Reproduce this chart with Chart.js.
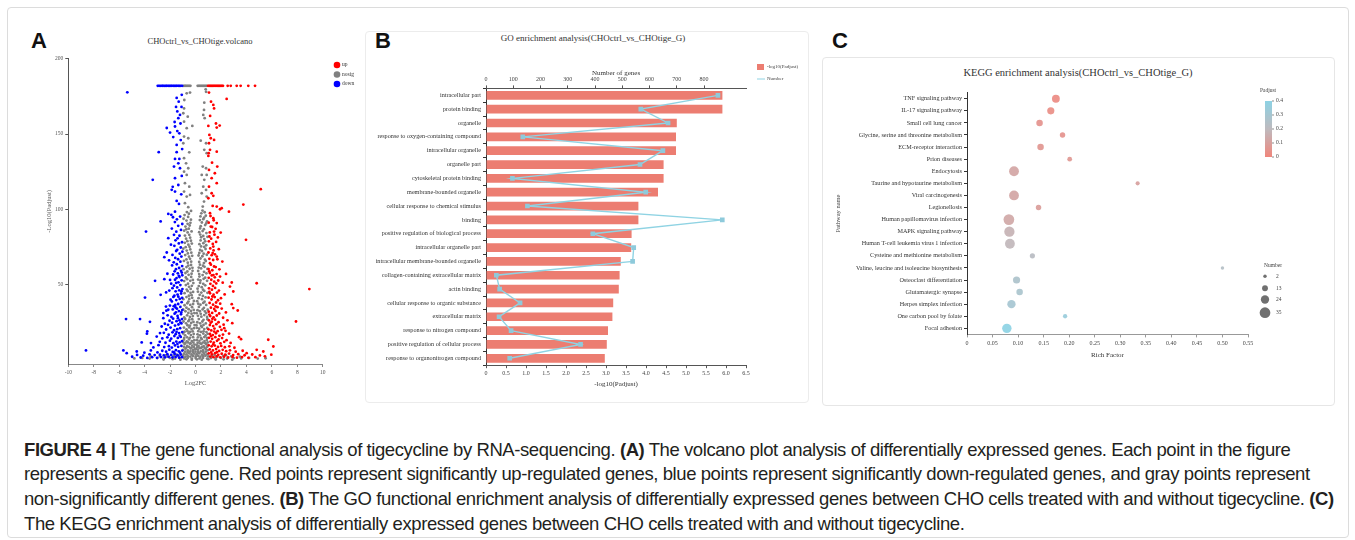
<!DOCTYPE html>
<html>
<head>
<meta charset="utf-8">
<script src="https://cdn.jsdelivr.net/npm/chart.js@4.4.0/dist/chart.umd.min.js"></script>
<style>
body { margin: 0; width: 1355px; height: 540px; background: #fff; position: relative; overflow: hidden; }
canvas { position: absolute; }
.frame { position: absolute; border: 1px solid #dcdcdc; border-radius: 4px; }
.letter { position: absolute; font-family: 'Liberation Sans', Arial, sans-serif; font-weight: bold; font-size: 22px; color: #111; line-height: 1; }
.ttl { position: absolute; transform: translateX(-50%); white-space: nowrap; color: #333; line-height: 1; font-family: 'Liberation Serif', serif; }
.cap { position: absolute; left: 24px; white-space: nowrap; font-family: 'Liberation Sans', Arial, sans-serif; font-size: 18.5px; letter-spacing: -0.42px; line-height: 24px; color: #231f20; }
</style>
</head>
<body>
<div class="frame" style="left:7px;top:7px;width:1340px;height:529px"></div>
<div class="frame" style="left:365px;top:31px;width:442px;height:370px;border-color:#ececec"></div>
<div class="frame" style="left:822px;top:57px;width:511px;height:347px;border-color:#e6e6e6"></div>

<div class="letter" style="left:31px;top:30px">A</div>
<div class="letter" style="left:375px;top:30px">B</div>
<div class="letter" style="left:832px;top:30px">C</div>

<div class="ttl" style="left:200px;top:37px;font-size:8.5px">CHOctrl_vs_CHOtige.volcano</div>
<div class="ttl" style="left:593px;top:34px;font-size:9px">GO enrichment analysis(CHOctrl_vs_CHOtige_G)</div>
<div class="ttl" style="left:1078px;top:68px;font-size:10.5px">KEGG enrichment analysis(CHOctrl_vs_CHOtige_G)</div>

<canvas id="graph_volcano" width="350" height="380" style="left:20px;top:20px"></canvas>
<canvas id="graph_go" width="440" height="375" style="left:370px;top:25px"></canvas>
<canvas id="graph_kegg" width="505" height="340" style="left:825px;top:60px"></canvas>

<div class="cap" style="top:437.5px"><b>FIGURE 4 |</b> The gene functional analysis of tigecycline by RNA-sequencing. <b>(A)</b> The volcano plot analysis of differentially expressed genes. Each point in the figure</div>
<div class="cap" style="top:462.2px">represents a specific gene. Red points represent significantly up-regulated genes, blue points represent significantly down-regulated genes, and gray points represent</div>
<div class="cap" style="top:486.9px">non-significantly different genes. <b>(B)</b> The GO functional enrichment analysis of differentially expressed genes between CHO cells treated with and without tigecycline. <b>(C)</b></div>
<div class="cap" style="top:511.6px">The KEGG enrichment analysis of differentially expressed genes between CHO cells treated with and without tigecycline.</div>

<script>
/*------------------------------*/
/*            Data              */
/*------------------------------*/
// volcano: [log2FC, -log10(padjust)]
var upGenes = [
  [0.99,182],[1.08,182],[1.17,182],[1.26,182],[1.35,182],[1.44,182],[1.53,182],[1.62,182],[1.71,182],[1.8,182],[1.89,182],[1.98,182],[2.07,182],[2.16,182],[2.53,182],[2.77,182],[3.24,182],[3.55,182],[4.15,182],[4.68,182],
  [1.06,177.5],[2.45,173.3],[1.22,171.5],[1.4,169.3],[1.46,167],[1.01,155.4],[1.61,157],[1.9,155.6],[1.67,154.3],[1.09,149.4],[1.2,147.2],[1.46,146.1],[1.06,143.9],[1.67,138.3],[1.04,137.3],[1.14,139.5],[1.01,135.5],[1.71,128.4],[1.06,126.2],[1.27,120.7],[1.67,117.4],[5.13,113.4],[1.06,115.1],[1.27,110.7],[1.4,109],[1.01,107.4],[3.76,103.2],[1.67,101.9],[1.93,100.1],[1.15,162],[1.3,131],[1.52,124],
  [1.35,102.3],[2.06,100.8],[2.63,98.5],[1.14,97.5],[1.4,94.2],[1.67,90.9],[1.2,88.6],[1.46,85.3],[1.98,84.6],[3.97,79.8],[1.09,82],[1.4,75.3],[1.35,71],[1.67,68.7],[2.11,65.4],[1.14,64.3],[2.4,57.2],[1.93,55.4],[2.85,51.5],[4.81,51],[8.95,47.1],[2.71,48.8],[2.97,45.5],[2.0,41.1],[2.85,37.1],[2.97,34.5],[3.32,32.9],[7.9,25.6],[2.89,24.5],[2.26,21.2],[5.72,13.5],[6.12,9.0],[3.58,13.9],[3.42,15.2],[4.81,6.8],[5.33,5.7],[4.02,4.6],
  [1.18,95.6],[1.43,92.8],[1.04,91.2],[1.31,88.3],[1.58,87.1],[1.12,84.7],[1.49,83.2],[1.23,80.6],[1.76,81.4],[1.05,78.8],[1.36,77.1],[1.62,78.4],[1.16,74.1],[1.42,72.8],[1.83,73.6],[1.02,71.4],[1.27,69.6],[1.53,70.2],[1.09,67.2],[1.39,66.4],[1.72,66.9],[1.21,63.3],[1.46,62.1],[1.03,60.4],[1.32,59.6],[1.59,61.7],[1.88,60.2],[1.13,57.8],[1.41,56.4],[1.66,57.1],[1.04,54.6],[1.24,53.3],[1.52,54.9],[1.79,52.8],[1.17,50.6],[1.37,49.2],[1.63,50.9],[2.14,51.4],[1.06,47.6],[1.29,46.7],[1.54,47.9],[1.84,46.1],[1.14,44.3],[1.42,43.4],[1.69,44.8],[2.29,43.6],[1.03,41.4],[1.26,40.2],[1.51,41.8],[1.77,39.7],[1.11,37.9],[1.38,36.8],[1.62,38.2],[1.94,37.4],[1.21,34.8],[1.47,33.9],[1.73,35.1],[2.06,34.2],[1.04,32.1],[1.31,31.3],[1.57,32.6],[1.86,30.9],[2.39,31.6],[1.16,29.2],[1.42,28.4],[1.67,29.6],[2.17,28.1],[1.06,26.3],[1.28,25.5],[1.54,26.8],[1.81,25.1],[2.51,26.4],[1.13,23.2],[1.39,22.6],[1.64,23.8],[1.92,22.1],[2.21,23.5],[1.02,20.4],[1.24,19.7],[1.49,20.9],[1.74,19.2],[2.04,20.1],[2.36,19.4],[1.14,17.3],[1.36,16.6],[1.61,17.8],[1.88,16.1],[2.16,16.9],[2.64,17.6],[1.06,14.8],[1.31,14.1],[1.56,15.2],[1.81,13.7],[2.09,14.6],[2.44,13.2],[1.19,12.3],[1.44,11.6],[1.69,12.8],[1.96,11.1],[2.26,12.1],[2.76,11.4],[1.04,9.8],[1.27,9.1],[1.52,9.6],[1.77,8.7],[2.02,9.4],[2.31,8.5],[2.66,9.1],[3.06,8.2],[1.12,7.1],[1.37,6.4],[1.62,7.3],[1.86,6.1],[2.14,6.8],[2.41,5.9],[2.71,6.5],[3.16,5.6],[3.71,6.2],[1.04,4.4],[1.29,3.8],[1.54,4.6],[1.79,3.5],[2.06,4.2],[2.34,3.6],[2.64,4.3],[2.96,3.3],[3.36,3.9],[3.86,3.2],[4.46,3.7],[5.06,3.1],[1.16,2.3],[1.41,1.9],[1.66,2.4],[1.94,1.8],[2.24,2.2],[2.56,1.7],[2.91,2.1],[3.26,1.6],[3.66,2.0],[4.16,1.5],[4.71,1.9],[5.46,2.5],[5.96,3.6],
  [1.08,58.9],[1.28,56.2],[1.47,52.1],[1.09,45.3],[1.33,42.2],[1.58,35.6],[1.09,30.2],[1.33,27.4],[1.19,24.7],[1.47,18.9],[1.22,15.9],[1.39,10.4],[1.68,5.2],[1.23,5.1]
]
var nosigGenes = [
  [-0.93,182],[-0.84,182],[-0.76,182],[-0.67,182],[-0.58,182],[-0.49,182],[-0.4,182],[0.17,182],[0.26,182],[0.35,182],[0.44,182],[0.53,182],[0.62,182],[0.71,182],[0.8,182],[0.89,182],
  [-0.43,177.5],[-0.69,177],[-0.88,172.6],[-0.9,167],[-0.96,163.8],[-0.61,161.5],[-0.9,158.2],[-0.25,155.4],[-0.69,153.9],[-0.9,148.3],[-0.57,147.2],[-0.96,143.9],[-0.49,137.9],[-0.9,134],[-0.74,130.6],[-0.57,127.3],[-0.9,125],[-0.69,122.9],[-0.83,117.4],[-0.49,115.1],[-0.9,111.8],[-0.69,108.5],[-0.43,109.6],[-0.83,104.1],[-0.57,101.5],
  [0.8,179.7],[0.83,178],[0.69,170.8],[0.67,166],[0.61,162.7],[0.72,160.5],[0.41,145.6],[0.83,143.9],[0.69,139.5],[0.88,137.3],[0.57,128.4],[0.83,127.3],[0.49,122.9],[0.88,122.9],[0.69,119.6],[0.61,115.1],[0.83,112.9],[0.49,110.7],[0.88,108.5],[0.67,105.2],[0.57,101.9],
  [-0.52,97.1],[-0.86,96.2],[0.46,97.4],[0.81,95.8],[-0.36,93.2],[-0.71,92.6],[-0.94,93.8],[0.34,92.9],[0.61,93.5],[0.91,92.1],[-0.46,89.3],[-0.79,88.6],[0.41,88.8],[0.76,89.6],[-0.31,85.4],[-0.62,84.7],[-0.89,85.9],[0.29,84.9],[0.56,85.6],[0.86,84.3],
  [-0.42,81.2],[-0.74,80.6],[0.44,81.5],[0.69,80.3],[0.94,81.8],[-0.29,77.3],[-0.56,76.6],[-0.84,77.8],[0.31,76.9],[0.62,77.6],[0.84,76.2],[-0.41,73.4],[-0.69,72.7],[-0.96,73.9],[0.36,73.1],[0.51,72.4],[0.79,73.7],[-0.26,69.2],[-0.51,68.6],[-0.81,69.7],[0.24,69.4],[0.54,68.9],[0.89,69.9],
  [-0.34,65.3],[-0.61,64.6],[-0.91,65.8],[0.29,65.1],[0.66,64.4],[0.81,65.7],[-0.24,61.2],[-0.46,60.6],[-0.71,61.7],[-0.94,60.3],[0.26,61.4],[0.44,60.8],[0.71,61.9],[0.94,60.5],[-0.31,57.3],[-0.54,56.6],[-0.79,57.8],[0.29,57.1],[0.56,56.4],[0.86,57.6],
  [-0.21,53.2],[-0.41,52.6],[-0.66,53.7],[-0.89,52.4],[0.21,53.4],[0.39,52.8],[0.64,53.9],[0.91,52.6],[-0.29,49.3],[-0.51,48.6],[-0.76,49.8],[0.26,49.1],[0.49,48.4],[0.76,49.6],[-0.19,45.2],[-0.39,44.6],[-0.61,45.7],[-0.86,44.4],[0.19,45.4],[0.46,44.8],[0.69,45.9],[0.94,44.6],
  [-0.26,41.3],[-0.49,40.6],[-0.71,41.8],[-0.96,40.4],[0.24,41.1],[0.51,40.4],[0.79,41.6],[-0.19,37.2],[-0.41,36.6],[-0.64,37.7],[-0.86,36.4],[0.21,37.4],[0.39,36.8],[0.61,37.9],[0.84,36.6],
  [-0.14,33.3],[-0.36,32.6],[-0.54,33.8],[-0.79,32.4],[-0.97,33.6],[0.16,33.1],[0.34,32.4],[0.56,33.6],[0.74,32.3],[0.96,33.4],[-0.21,29.2],[-0.44,28.6],[-0.66,29.7],[-0.89,28.4],[0.19,29.4],[0.46,28.8],[0.69,29.9],[0.91,28.6],
  [-0.16,25.3],[-0.34,24.6],[-0.56,25.8],[-0.74,24.4],[-0.94,25.6],[0.14,25.1],[0.36,24.4],[0.54,25.6],[0.81,24.3],[-0.12,21.2],[-0.31,20.6],[-0.49,21.7],[-0.71,20.4],[-0.91,21.6],[0.11,21.4],[0.29,20.8],[0.51,21.9],[0.69,20.6],[0.92,21.3],
  [-0.14,17.3],[-0.36,16.6],[-0.54,17.8],[-0.81,16.4],[-0.97,17.6],[0.16,17.1],[0.34,16.4],[0.61,17.6],[0.79,16.3],[0.96,17.4],[-0.09,13.2],[-0.29,12.6],[-0.51,13.7],[-0.69,12.4],[-0.91,13.6],[0.11,13.4],[0.31,12.8],[0.49,13.9],[0.71,12.6],[0.89,13.3],
  [-0.07,10.3],[-0.26,9.6],[-0.44,10.8],[-0.66,9.4],[-0.86,10.6],[0.09,10.1],[0.24,9.4],[0.46,10.6],[0.64,9.3],[0.86,10.4],[-0.05,7.2],[-0.21,6.6],[-0.39,7.7],[-0.61,6.4],[-0.79,7.6],[-0.98,6.8],[0.04,7.4],[0.19,6.8],[0.41,7.9],[0.59,6.6],[0.81,7.3],[0.97,6.5],
  [-0.91,4.2],[-0.71,3.8],[-0.49,4.4],[-0.31,3.7],[-0.11,4.3],[0.09,3.9],[0.29,4.5],[0.51,3.6],[0.69,4.2],[0.91,3.8],
  [-3.52,2.4],[-2.81,2.7],[-2.19,2.3],[-1.71,2.8],[-1.31,2.5],[-0.98,2.9],[-0.79,2.2],[-0.61,2.6],[-0.41,2.3],[-0.19,2.7],[0.02,2.4],[0.21,2.8],[0.39,2.2],[0.61,2.6],[0.79,2.9],[1.01,2.4],[1.29,2.7],[1.71,2.3],[2.19,2.8],[2.81,2.5],[3.49,2.3],
  [-4.81,1.1],[-4.19,1.4],[-3.61,1.0],[-3.01,1.3],[-2.49,1.1],[-2.01,1.4],[-1.61,1.0],[-1.21,1.3],[-0.89,1.1],[-0.61,1.4],[-0.29,1.0],[0.01,1.3],[0.31,1.1],[0.59,1.4],[0.91,1.0],[1.21,1.3],[1.59,1.1],[2.01,1.4],[2.49,1.0],[3.01,1.3],[3.59,1.1],[4.21,1.4],[4.89,1.0],[5.51,1.2],
  [-2.51,0.4],[-1.79,0.6],[-1.19,0.3],[-0.71,0.5],[-0.29,0.3],[0.11,0.5],[0.49,0.3],[1.01,0.6],[1.59,0.4],[2.21,0.5],[2.89,0.3],
  [-0.35,99],[-0.68,98.2],[0.55,99.2],[0.72,98.1],[-0.58,95],[0.39,95.3],[0.68,94.6],[-0.4,91.1],[-0.62,90.4],[0.5,91.3],[0.84,90.7],[-0.53,87.2],[-0.72,86.8],[0.36,87.4],[0.66,86.9],
  [-0.49,83.1],[-0.83,82.6],[0.37,83.3],[0.61,82.4],[-0.36,79.2],[-0.64,78.9],[0.4,79.4],[0.76,78.8],[-0.47,75.2],[-0.77,74.9],[0.44,75.4],[0.69,75.1],[-0.33,71.3],[-0.6,70.8],[0.3,71.1],[0.64,70.6],
  [-0.43,67.2],[-0.71,66.8],[0.39,67.4],[0.74,66.7],[-0.35,63.1],[-0.57,62.7],[0.35,63.3],[0.59,62.6],[-0.23,59.2],[-0.64,58.8],[0.21,59.1],[0.67,58.6],[-0.34,55.2],[-0.76,54.8],[0.31,55.4],[0.76,54.7],
  [-0.17,51.1],[-0.59,50.7],[0.36,51.3],[0.61,50.6],[-0.38,47.2],[-0.69,46.8],[0.16,47.4],[0.59,46.7],[-0.31,43.1],[-0.52,42.7],[0.33,43.3],[0.58,42.6],[-0.13,39.2],[-0.56,38.8],[0.13,39.1],[0.71,38.7],
  [-0.27,35.1],[-0.71,34.8],[0.27,35.3],[0.66,34.7],[-0.09,31.2],[-0.31,30.8],[-0.56,31.3],[0.09,31.1],[0.41,30.7],[0.84,31.2],[-0.26,27.1],[-0.49,26.8],[-0.81,27.3],[0.26,27.2],[0.63,26.7],[0.94,27.1],
  [-0.07,23.2],[-0.44,22.8],[-0.63,23.1],[0.07,23.1],[0.44,22.7],[0.63,23.3],[-0.22,19.1],[-0.42,18.7],[-0.63,19.2],[-0.86,18.8],[0.22,19.2],[0.42,18.7],[0.63,19.1],[0.86,18.6],
  [-0.19,15.2],[-0.44,14.8],[-0.66,15.1],[-0.89,14.7],[0.19,15.1],[0.44,14.7],[0.69,15.3],[0.89,14.8],[-0.17,11.6],[-0.39,11.2],[-0.59,11.7],[-0.79,11.3],[-0.96,11.8],[0.17,11.5],[0.37,11.1],[0.57,11.6],[0.77,11.2],[0.96,11.7],
  [-0.13,8.6],[-0.31,8.2],[-0.51,8.7],[-0.71,8.3],[-0.91,8.8],[0.14,8.5],[0.31,8.1],[0.51,8.6],[0.71,8.2],[0.91,8.7],[-0.81,5.6],[-0.61,5.2],[-0.41,5.7],[-0.21,5.3],[0,5.6],[0.21,5.2],[0.41,5.7],[0.61,5.3],[0.81,5.6],
  [-1.5,3.6],[-2.3,3.2],[1.5,3.4],[2.4,3.1]
]
var downGenes = [
  [-2.97,182],[-2.86,182],[-2.74,182],[-2.63,182],[-2.55,182],[-2.44,182],[-2.33,182],[-2.25,182],[-2.14,182],[-2.05,182],[-1.94,182],[-1.86,182],[-1.75,182],[-1.66,182],[-1.55,182],[-1.47,182],[-1.36,182],[-1.27,182],[-1.16,182],[-1.05,182],
  [-5.36,177.7],[-1.48,174],[-1.32,171.5],[-1.08,176],[-1.53,168],[-1.43,165],[-1.22,162.7],[-1.35,160.5],[-1.64,158],[-2.26,154],[-2.0,151],[-1.61,155],[-1.43,152],[-1.27,150.5],[-1.75,148],[-1.16,146],[-1.48,142.8],[-2.89,138],[-1.48,138],[-1.61,133.5],[-1.27,133.5],[-1.35,130.6],[-1.69,128.4],[-1.22,127.3],[-1.08,122.2],[-3.36,119.6],[-1.61,120.7],[-1.79,115],[-1.35,116.2],[-1.61,111.8],[-1.87,113],[-1.48,105.6],[-1.3,103.6],[-1.12,110],[-1.05,140],[-1.18,157],[-1.1,168],
  [-2.74,92],[-3.89,85.3],[-2.14,97],[-1.9,96.4],[-1.61,98.5],[-2.45,68.3],[-2.26,71.4],[-2.14,80.9],[-3.18,52.6],[-2.45,53.7],[-2.74,43.3],[-3.97,41.5],[-2.0,53.2],[-5.46,27.2],[-4.36,27.2],[-3.58,25.4],[-4.23,11.7],[-3.79,19],[-3.82,17.5],[-4.62,5.7],[-5.41,4.6],[-5.67,6.4],[-8.61,6.4],[-2.79,17.9],[-3.05,15.6],[-3.5,11.3],[-2.66,22.3],[-2.53,27.8],[-2.53,31.2],[-2.14,33.4],[-2.32,35.5],
  [-1.21,95.2],[-1.46,93.4],[-1.77,94.8],[-1.04,90.3],[-1.36,89.1],[-1.62,91.6],[-1.14,86.4],[-1.51,85.2],[-1.86,87.3],[-1.26,82.5],[-1.41,80.8],[-1.69,83.1],[-1.06,78.2],[-1.31,77.4],[-1.57,79.5],[-1.93,76.6],[-1.16,74.7],[-1.44,73.2],[-1.66,75.8],[-1.03,71.9],[-1.24,70.6],[-1.52,72.4],[-1.81,69.8],[-1.11,68.7],[-1.37,66.9],[-1.59,67.8],[-1.19,65.3],[-1.47,63.6],[-1.71,64.9],[-2.08,66.2],[-1.05,62.4],[-1.29,61.1],[-1.54,60.3],[-1.84,62.8],[-1.14,59.2],[-1.39,57.6],[-1.64,58.9],[-1.04,56.3],[-1.26,55.1],[-1.49,54.4],[-1.76,56.8],[-2.21,57.3],[-1.09,52.9],[-1.34,51.6],[-1.61,53.3],[-1.91,50.7],[-1.19,49.8],[-1.44,48.2],[-1.69,49.4],[-1.03,47.1],[-1.28,46.3],[-1.56,45.6],[-1.81,47.7],[-2.06,46.1],[-1.13,44.2],[-1.41,43.5],[-1.66,42.7],[-2.31,44.9],[-1.05,41.3],[-1.24,40.6],[-1.51,39.8],[-1.74,41.9],[-1.96,40.1],[-1.09,38.4],[-1.36,37.2],[-1.59,36.6],[-1.86,38.9],[-1.19,35.3],[-1.46,34.1],[-1.71,35.8],[-2.01,36.2],[-1.04,33.2],[-1.31,32.5],[-1.54,31.7],[-1.79,33.6],[-2.29,32.8],[-1.14,30.4],[-1.41,29.3],[-1.64,30.8],[-1.89,28.6],[-2.19,29.7],[-1.06,27.2],[-1.26,26.4],[-1.49,25.8],[-1.76,27.5],[-2.04,26.1],[-1.11,24.3],[-1.34,23.6],[-1.61,22.9],[-1.84,24.8],[-2.16,23.4],[-2.41,24.1],[-1.21,21.2],[-1.44,20.5],[-1.69,19.8],[-1.96,21.6],[-2.31,20.3],[-1.04,18.6],[-1.29,17.9],[-1.56,17.2],[-1.81,18.4],[-2.11,16.8],[-2.49,18.1],[-1.16,15.4],[-1.39,14.7],[-1.66,15.9],[-1.91,14.2],[-2.21,15.1],[-2.61,14.4],[-1.06,12.6],[-1.24,11.8],[-1.51,12.3],[-1.74,11.2],[-2.01,12.9],[-2.36,11.5],[-2.81,12.1],[-1.11,9.4],[-1.36,8.8],[-1.61,9.7],[-1.86,8.3],[-2.09,9.2],[-2.46,8.6],[-2.91,9.9],[-3.31,8.4],[-1.04,6.3],[-1.31,5.8],[-1.54,6.6],[-1.79,5.4],[-2.06,6.9],[-2.31,5.6],[-2.61,6.2],[-2.99,5.1],[-3.51,6.4],[-4.02,4.9],[-1.16,3.7],[-1.41,3.2],[-1.64,4.1],[-1.91,3.4],[-2.21,3.9],[-2.49,3.1],[-2.79,3.6],[-3.21,3.3],[-3.61,3.8],[-4.11,2.9],[-4.59,3.4],[-1.06,1.9],[-1.29,1.6],[-1.56,2.1],[-1.81,1.7],[-2.11,2.2],[-2.39,1.8],[-2.71,2.0],[-3.02,1.5],[-3.41,1.9],[-3.79,1.4],[-4.31,1.7],[-4.98,2.2],
  [-1.08,58.1],[-1.31,55.9],[-1.52,51.2],[-1.1,45.7],[-1.35,42.1],[-1.57,34.9],[-1.12,31.6],[-1.38,27.8],[-1.18,24.9],[-1.49,18.6],[-1.24,16.2],[-1.42,10.7],[-1.69,5.1],[-1.22,4.9]
]

// GO enrichment
var goTerms = ['intracellular part', 'protein binding', 'organelle', 'response to oxygen-containing compound',
  'intracellular organelle', 'organelle part', 'cytoskeletal protein binding', 'membrane-bounded organelle',
  'cellular response to chemical stimulus', 'binding', 'positive regulation of biological process',
  'intracellular organelle part', 'intracellular membrane-bounded organelle', 'collagen-containing extracellular matrix',
  'actin binding', 'cellular response to organic substance', 'extracellular matrix', 'response to nitrogen compound',
  'positive regulation of cellular process', 'response to organonitrogen compound']
var goPadj = [5.91, 5.91, 4.77, 4.75, 4.75, 4.44, 4.44, 4.30, 3.81, 3.81, 3.64, 3.63, 3.37, 3.34, 3.32, 3.18, 3.16, 3.05, 3.02, 2.97]
var goGenes = [851, 568, 668, 135, 649, 565, 97, 586, 152, 867, 392, 542, 538, 38, 50, 125, 48, 92, 347, 87]

// KEGG enrichment
var keggPathways = ['TNF signaling pathway', 'IL-17 signaling pathway', 'Small cell lung cancer',
  'Glycine, serine and threonine metabolism', 'ECM-receptor interaction', 'Prion diseases', 'Endocytosis',
  'Taurine and hypotaurine metabolism', 'Viral carcinogenesis', 'Legionellosis', 'Human papillomavirus infection',
  'MAPK signaling pathway', 'Human T-cell leukemia virus 1 infection', 'Cysteine and methionine metabolism',
  'Valine, leucine and isoleucine biosynthesis', 'Osteoclast differentiation', 'Glutamatergic synapse',
  'Herpes simplex infection', 'One carbon pool by folate', 'Focal adhesion']
var keggRich = [0.174, 0.164, 0.142, 0.187, 0.144, 0.201, 0.092, 0.334, 0.092, 0.140, 0.082, 0.083, 0.084, 0.128, 0.500, 0.097, 0.103, 0.087, 0.192, 0.078]
var keggNumber = [22, 19, 16, 11, 16, 8, 31, 5, 31, 11, 35, 33, 31, 10, 2, 19, 16, 24, 6, 29]
var keggPadj = [0.02, 0.03, 0.05, 0.05, 0.06, 0.07, 0.12, 0.10, 0.12, 0.09, 0.13, 0.17, 0.19, 0.22, 0.24, 0.27, 0.28, 0.30, 0.35, 0.40]
var padjTicks = [0, 0.1, 0.2, 0.3, 0.4]
var numberTicks = [2, 13, 24, 35]

/*------------------------------*/
/*           Helpers            */
/*------------------------------*/
Chart.defaults.font.family = "'Liberation Serif', 'Times New Roman', serif"
Chart.defaults.color = '#444'
Chart.defaults.animation = false

var serif = "'Liberation Serif', 'Times New Roman', serif"
function fixWidth(w) { return function (scale) { scale.width = w } }
function fixHeight(h) { return function (scale) { scale.height = h } }
function toXY(arr) { return arr.map(function (p) { return { x: p[0], y: p[1] } }) }
function keepEvery(step) {
  return function (scale) { scale.ticks = scale.ticks.filter(function (t) { return Math.abs(t.value / step - Math.round(t.value / step)) < 1e-6 }) }
}
function axisStyle(extra) {
  var base = {
    border: { display: true, color: '#555', width: 1 },
    grid: { display: true, drawOnChartArea: false, drawTicks: true, tickLength: 3, color: '#555' },
    ticks: { font: { size: 6 }, color: '#444', padding: 2 }
  }
  return Object.assign(base, extra)
}

// Padjust colour scale: salmon -> grey -> light blue
var padjStops = [[0, [240, 134, 124]], [0.2, [190, 186, 190]], [0.4, [141, 210, 228]]]
function padjColor(v, a) {
  var lo = padjStops[0], hi = padjStops[padjStops.length - 1]
  for (var i = 0; i < padjStops.length - 1; i++) {
    if (v >= padjStops[i][0] && v <= padjStops[i + 1][0]) { lo = padjStops[i]; hi = padjStops[i + 1]; break }
  }
  var t = hi[0] === lo[0] ? 0 : (v - lo[0]) / (hi[0] - lo[0])
  var c = lo[1].map(function (x, k) { return Math.round(x + (hi[1][k] - x) * t) })
  return 'rgba(' + c[0] + ',' + c[1] + ',' + c[2] + ',' + (a || 1) + ')'
}
function bubbleRadius(n) { return 1.5 + 0.11 * n }

/*------------------------------*/
/*         Volcano (A)          */
/*------------------------------*/
var volcanoLegend = {
  id: 'volcanoLegend',
  afterDraw: function (chart) {
    var ctx = chart.ctx
    ctx.save()
    ctx.font = '5.5px ' + serif
    ctx.textBaseline = 'middle'
    chart.data.datasets.forEach(function (ds, i) {
      var y = 45 + i * 9.5
      ctx.fillStyle = ds.backgroundColor
      ctx.beginPath(); ctx.arc(317, y, 3.3, 0, Math.PI * 2); ctx.fill()
      ctx.fillStyle = '#333'
      ctx.fillText(ds.label, 322, y)
    })
    ctx.restore()
  }
}

var ctx_volcano = document.getElementById('graph_volcano').getContext('2d')
var graph_volcano = new Chart(ctx_volcano, {
  type: 'scatter',
  data: {
    datasets: [
      { label: 'up', data: toXY(upGenes), backgroundColor: '#ff0000', order: 0 },
      { label: 'nosig', data: toXY(nosigGenes), backgroundColor: '#808080', order: 1 },
      { label: 'down', data: toXY(downGenes), backgroundColor: '#0000ff', order: 0 }
    ]
  },
  options: {
    responsive: false,
    layout: { padding: { left: 25, top: 38.7, right: 47.3, bottom: 12.8 } },
    elements: { point: { radius: 1.4, borderWidth: 0, hoverRadius: 1.4 } },
    plugins: { legend: { display: false }, tooltip: { enabled: false } },
    scales: {
      x: axisStyle({
        min: -10, max: 10,
        afterFit: fixHeight(23.2),
        border: { display: true, color: '#888', width: 1 },
        grid: { display: true, drawOnChartArea: false, drawTicks: true, tickLength: 3, color: '#888' },
        ticks: { stepSize: 2, font: { size: 5.5 }, color: '#555', padding: 2 },
        title: { display: true, text: 'Log2FC', font: { size: 6.5 }, color: '#555', padding: 0 }
      }),
      y: axisStyle({
        min: -2.6, max: 200,
        afterFit: fixWidth(23.3),
        afterBuildTicks: keepEvery(50),
        ticks: { stepSize: 50, font: { size: 5.5 }, color: '#555', padding: 2 },
        title: { display: true, text: '-Log10(Padjust)', font: { size: 6.5 }, color: '#555', padding: 0 }
      })
    }
  },
  plugins: [volcanoLegend]
})

/*------------------------------*/
/*        GO enrichment (B)     */
/*------------------------------*/
var goLegend = {
  id: 'goLegend',
  afterDraw: function (chart) {
    var ctx = chart.ctx
    var bar = chart.data.datasets[0], line = chart.data.datasets[1]
    ctx.save()
    ctx.font = '5px ' + serif
    ctx.textBaseline = 'middle'
    ctx.fillStyle = bar.backgroundColor
    ctx.fillRect(387, 39, 7, 6)
    ctx.strokeStyle = line.borderColor
    ctx.lineWidth = 1
    ctx.beginPath(); ctx.moveTo(387, 54); ctx.lineTo(395, 54); ctx.stroke()
    ctx.fillStyle = '#444'
    ctx.fillText(bar.label, 397, 42)
    ctx.fillText(line.label, 397, 54)
    ctx.restore()
  }
}

var ctx_go = document.getElementById('graph_go').getContext('2d')
var graph_go = new Chart(ctx_go, {
  type: 'bar',
  data: {
    labels: goTerms,
    datasets: [
      {
        type: 'bar', label: '-log10(Padjust)', data: goPadj, xAxisID: 'x', order: 1,
        backgroundColor: '#ec7d71', barPercentage: 0.9, categoryPercentage: 0.7
      },
      {
        type: 'line', label: 'Number', data: goGenes, xAxisID: 'x2', order: 0,
        borderColor: '#8fd3e3', borderWidth: 1.4, fill: false, tension: 0,
        pointStyle: 'rect', pointRadius: 3.3, pointBackgroundColor: '#8ecadb', pointBorderWidth: 0
      }
    ]
  },
  options: {
    indexAxis: 'y',
    responsive: false,
    layout: { padding: { left: 6, top: 44.1, right: 64, bottom: 12.1 } },
    plugins: { legend: { display: false }, tooltip: { enabled: false } },
    scales: {
      y: axisStyle({
        afterFit: fixWidth(110),
        border: { display: true, color: '#333', width: 1 },
        grid: { display: true, drawOnChartArea: false, drawTicks: true, tickLength: 3, color: '#333' },
        ticks: { font: { size: 6.2 }, color: '#333', padding: 2, autoSkip: false }
      }),
      x: axisStyle({
        position: 'bottom', min: 0, max: 6.5,
        afterFit: fixHeight(22.7),
        ticks: { stepSize: 0.5, font: { size: 6 }, color: '#444', padding: 2 },
        title: { display: true, text: '-log10(Padjust)', font: { size: 7 }, color: '#333', padding: 0 }
      }),
      x2: axisStyle({
        position: 'top', min: 0, max: 954,
        afterFit: fixHeight(19.3),
        afterBuildTicks: keepEvery(100),
        ticks: { stepSize: 100, font: { size: 6 }, color: '#444', padding: 2 },
        title: { display: true, text: 'Number of genes', font: { size: 7 }, color: '#333', padding: 0 }
      })
    }
  },
  plugins: [goLegend]
})

/*------------------------------*/
/*       KEGG enrichment (C)    */
/*------------------------------*/
var keggLegend = {
  id: 'keggLegend',
  afterDraw: function (chart) {
    var ctx = chart.ctx
    ctx.save()
    // Padjust colour bar
    var bx = 440, top = 41, bottom = 97
    var grad = ctx.createLinearGradient(0, bottom, 0, top)
    padjStops.forEach(function (s) { grad.addColorStop(s[0] / 0.4, padjColor(s[0])) })
    ctx.fillStyle = grad
    ctx.fillRect(bx, top, 7, bottom - top)
    ctx.font = '5.5px ' + serif
    ctx.textBaseline = 'middle'
    ctx.fillStyle = '#444'
    padjTicks.forEach(function (t) {
      var y = bottom - t / 0.4 * (bottom - top)
      ctx.fillRect(bx + 7, y - 0.3, 2, 0.6)
      ctx.fillText(String(t), bx + 11, y)
    })
    ctx.textAlign = 'center'
    ctx.fillText('Padjust', bx + 3, 31)
    ctx.fillText('Number', bx + 8, 206)
    // Number sizes
    ctx.textAlign = 'left'
    var ys = [216.3, 228.3, 239.5, 252.7]
    numberTicks.forEach(function (n, i) {
      ctx.fillStyle = '#707070'
      ctx.beginPath(); ctx.arc(bx, ys[i], bubbleRadius(n), 0, Math.PI * 2); ctx.fill()
      ctx.fillStyle = '#444'
      ctx.fillText(String(n), bx + 11, ys[i])
    })
    ctx.restore()
  }
}

var ctx_kegg = document.getElementById('graph_kegg').getContext('2d')
var graph_kegg = new Chart(ctx_kegg, {
  type: 'scatter',
  data: {
    datasets: [{
      label: 'KEGG',
      data: keggPathways.map(function (p, i) { return { x: keggRich[i], y: p } }),
      pointRadius: function (c) { return bubbleRadius(keggNumber[c.dataIndex]) },
      pointHoverRadius: function (c) { return bubbleRadius(keggNumber[c.dataIndex]) },
      backgroundColor: function (c) { return padjColor(keggPadj[c.dataIndex], 0.92) },
      borderWidth: 0
    }]
  },
  options: {
    responsive: false,
    layout: { padding: { left: 9, top: 32.7, right: 82, bottom: 40.5 } },
    plugins: { legend: { display: false }, tooltip: { enabled: false } },
    scales: {
      x: axisStyle({
        type: 'linear', min: 0, max: 0.55,
        afterFit: fixHeight(25.1),
        border: { display: true, color: '#999', width: 1 },
        grid: { display: true, drawOnChartArea: false, drawTicks: true, tickLength: 3, color: '#999' },
        ticks: { stepSize: 0.05, font: { size: 6 }, color: '#444', padding: 2 },
        title: { display: true, text: 'Rich Factor', font: { size: 7 }, color: '#333', padding: 0 }
      }),
      y: axisStyle({
        type: 'category', labels: keggPathways, offset: true,
        afterFit: fixWidth(133),
        border: { display: true, color: '#333', width: 1 },
        grid: { display: true, drawOnChartArea: false, drawTicks: true, tickLength: 3, color: '#333', offset: false },
        ticks: { font: { size: 6.2 }, color: '#333', padding: 2, autoSkip: false },
        title: { display: true, text: 'Pathway name', font: { size: 6.5 }, color: '#444', padding: 0 }
      })
    }
  },
  plugins: [keggLegend]
})
</script>
</body>
</html>
